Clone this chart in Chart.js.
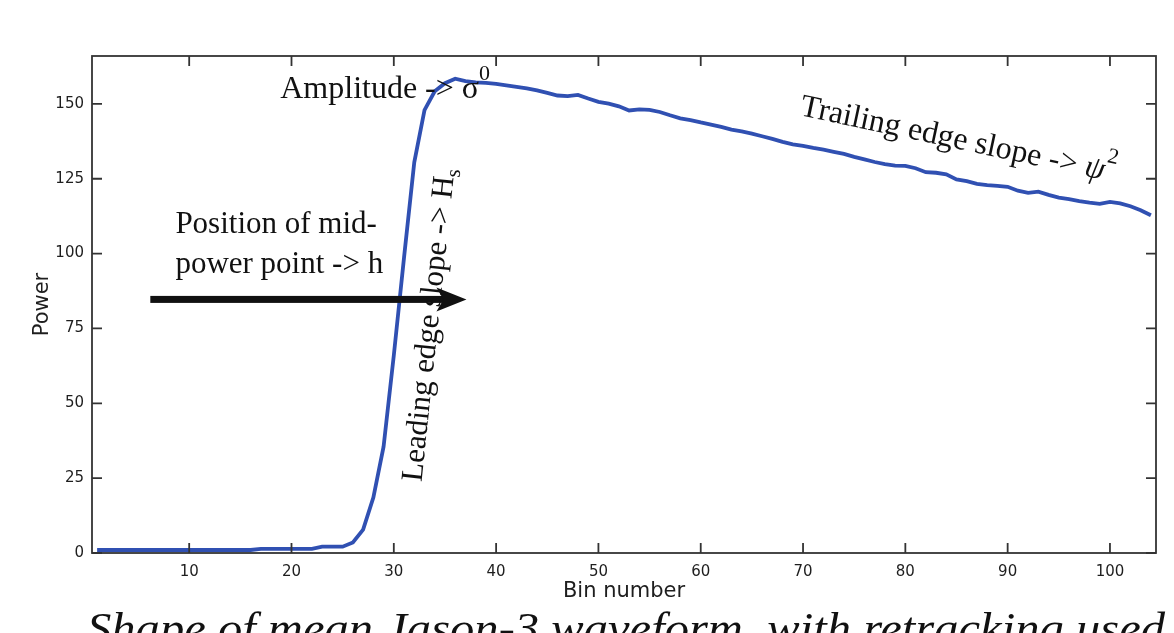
<!DOCTYPE html>
<html>
<head>
<meta charset="utf-8">
<title>Mean Jason-3 waveform</title>
<script src="https://cdn.jsdelivr.net/npm/chart.js@4.4.1/dist/chart.umd.min.js"></script>
<style>
  html, body { margin: 0; padding: 0; background: #fff; }
  #wrap { width: 1174px; height: 633px; position: relative; overflow: hidden; }
</style>
</head>
<body>
<div id="wrap"><canvas id="grafico" width="1174" height="633"></canvas></div>
<script>
const bins = [
  1, 2, 3, 4, 5, 6, 7, 8, 9, 10, 11, 12, 13, 14, 15, 16, 17, 18, 19, 20,
  21, 22, 23, 24, 25, 26, 27, 28, 29, 30, 31, 32, 33, 34, 35, 36, 37, 38, 39, 40,
  41, 42, 43, 44, 45, 46, 47, 48, 49, 50, 51, 52, 53, 54, 55, 56, 57, 58, 59, 60,
  61, 62, 63, 64, 65, 66, 67, 68, 69, 70, 71, 72, 73, 74, 75, 76, 77, 78, 79, 80,
  81, 82, 83, 84, 85, 86, 87, 88, 89, 90, 91, 92, 93, 94, 95, 96, 97, 98, 99, 100,
  101, 102, 103, 104
];

const power = [
  1.0, 1.0, 1.0, 1.0, 1.0, 1.0, 1.0, 1.0, 1.0, 1.0, 1.0, 1.0, 1.0, 1.0, 1.0, 1.0,
  1.4, 1.4, 1.4, 1.4, 1.4, 1.4, 2.1, 2.1, 2.1,
  3.5, 7.8, 18.5, 35.5, 66, 98.7, 130.5, 147.9, 154.2, 156.9, 158.4,
  157.6, 157.2, 157.0, 156.7, 156.2, 155.7, 155.2, 154.5, 153.7, 152.8,
  152.6, 153.0, 151.8, 150.7, 150.1, 149.2, 147.8, 148.2, 148.0, 147.3,
  146.2, 145.2, 144.6, 143.8, 143.1, 142.3, 141.4, 140.8, 140.1, 139.2,
  138.3, 137.3, 136.5, 136.0, 135.3, 134.7, 134.0, 133.3, 132.3, 131.5,
  130.6, 129.9, 129.4, 129.3, 128.5, 127.2, 127.0, 126.5, 124.8, 124.2,
  123.3, 122.9, 122.6, 122.3, 121.0, 120.3, 120.7, 119.6, 118.7, 118.2,
  117.5, 117.0, 116.6, 117.3, 116.8, 115.8, 114.5, 112.8
];

const xTicks = [10, 20, 30, 40, 50, 60, 70, 80, 90, 100];
const yTicks = [0, 25, 50, 75, 100, 125, 150];

const serif = '"Liberation Serif", "Times New Roman", serif';
const colorEjes = '#333333';

// texto con tramos (superindices / subindices) en coordenadas de datos
function escribirTramos(ctx, tramos, x, y, angulo) {
  ctx.save();
  ctx.translate(x, y);
  ctx.rotate(angulo * Math.PI / 180);
  ctx.fillStyle = '#111';
  ctx.textBaseline = 'alphabetic';
  ctx.textAlign = 'left';
  let cx = 0;
  tramos.forEach(t => {
    ctx.font = `${t.estilo || 'normal'} ${t.tam}px ${serif}`;
    ctx.fillText(t.texto, cx, t.dy || 0);
    cx += ctx.measureText(t.texto).width;
  });
  ctx.restore();
}

const anotaciones = {
  id: 'anotaciones',
  afterDatasetsDraw(chart) {
    const { ctx, chartArea: a, scales: { x, y } } = chart;

    // marco y marcas hacia dentro
    ctx.save();
    ctx.strokeStyle = colorEjes;
    ctx.lineWidth = 1.8;
    ctx.strokeRect(a.left, a.top, a.right - a.left, a.bottom - a.top);
    ctx.beginPath();
    xTicks.forEach(v => {
      const px = x.getPixelForValue(v);
      ctx.moveTo(px, a.bottom); ctx.lineTo(px, a.bottom - 10);
      ctx.moveTo(px, a.top); ctx.lineTo(px, a.top + 10);
    });
    yTicks.forEach(v => {
      const py = y.getPixelForValue(v);
      ctx.moveTo(a.left, py); ctx.lineTo(a.left + 10, py);
      ctx.moveTo(a.right, py); ctx.lineTo(a.right - 10, py);
    });
    ctx.stroke();
    ctx.restore();

    // flecha horizontal
    const x0 = x.getPixelForValue(6.2), x1 = x.getPixelForValue(37.1);
    const ya = y.getPixelForValue(84.7);
    ctx.save();
    ctx.fillStyle = '#111';
    ctx.fillRect(x0, ya - 3.5, x1 - x0 - 20, 7);
    ctx.beginPath();
    ctx.moveTo(x1, ya);
    ctx.lineTo(x1 - 30, ya - 12);
    ctx.lineTo(x1 - 23, ya);
    ctx.lineTo(x1 - 30, ya + 12);
    ctx.closePath();
    ctx.fill();
    ctx.restore();

    escribirTramos(ctx, [
      { texto: 'Amplitude -> \u03c3', tam: 32 },
      { texto: '0', tam: 22, dy: -18 }
    ], x.getPixelForValue(18.9), y.getPixelForValue(152), 0);

    escribirTramos(ctx, [
      { texto: 'Trailing edge slope -> ', tam: 32 },
      { texto: '\u03c8', tam: 32, estilo: 'italic' },
      { texto: '2', tam: 22, dy: -18 }
    ], x.getPixelForValue(69.6), y.getPixelForValue(146.3), 12);

    escribirTramos(ctx, [{ texto: 'Position of mid-', tam: 31 }],
      x.getPixelForValue(8.65), y.getPixelForValue(107.0), 0);
    escribirTramos(ctx, [{ texto: 'power point -> h', tam: 31 }],
      x.getPixelForValue(8.65), y.getPixelForValue(93.6), 0);

    escribirTramos(ctx, [
      { texto: 'Leading edge slope -> H', tam: 31 },
      { texto: 's', tam: 21, dy: 6 }
    ], x.getPixelForValue(32.7), y.getPixelForValue(23.6), -84);

    // pie de figura, recortado por el borde inferior
    ctx.save();
    ctx.font = `italic 44px ${serif}`;
    ctx.fillStyle = '#111';
    const texto = 'Shape of mean Jason-3 waveform, with retracking used';
    const w = ctx.measureText(texto).width;
    ctx.translate(87, 643);
    ctx.scale(1078 / w, 1);
    ctx.fillText(texto, 0, 0);
    ctx.restore();
  }
};

const fuenteEjes = { family: '"DejaVu Sans", sans-serif', size: 15 };
const fuenteTitulo = { family: '"DejaVu Sans", sans-serif', size: 21 };

new Chart(document.getElementById('grafico'), {
  type: 'line',
  data: {
    datasets: [{
      data: bins.map((b, i) => ({ x: b, y: power[i] })),
      borderColor: '#3050b2',
      borderWidth: 3.8,
      pointRadius: 0,
      tension: 0,
      fill: false
    }]
  },
  options: {
    responsive: false,
    animation: false,
    layout: { padding: { left: 0, top: 56, right: 18, bottom: 0 } },
    plugins: { legend: { display: false }, tooltip: { enabled: false } },
    scales: {
      x: {
        type: 'linear',
        min: 0.5,
        max: 104.5,
        afterBuildTicks: s => { s.ticks = xTicks.map(v => ({ value: v })); },
        afterFit: s => { s.height = 80; },
        grid: { display: false, drawTicks: false },
        border: { display: false },
        ticks: { padding: 10, color: '#1e1e1e', font: fuenteEjes, maxRotation: 0, autoSkip: false },
        title: {
          display: true, text: 'Bin number', color: '#1e1e1e',
          font: fuenteTitulo, padding: { top: 0, bottom: 29 }
        }
      },
      y: {
        min: 0,
        max: 166,
        afterBuildTicks: s => { s.ticks = yTicks.map(v => ({ value: v })); },
        afterFit: s => { s.width = 92; },
        grid: { display: false, drawTicks: false },
        border: { display: false },
        ticks: { padding: 8, color: '#1e1e1e', font: fuenteEjes, autoSkip: false },
        title: {
          display: true, text: 'Power', color: '#1e1e1e',
          font: fuenteTitulo, padding: { top: 30, bottom: 0 }
        }
      }
    }
  },
  plugins: [anotaciones]
});
</script>
</body>
</html>
